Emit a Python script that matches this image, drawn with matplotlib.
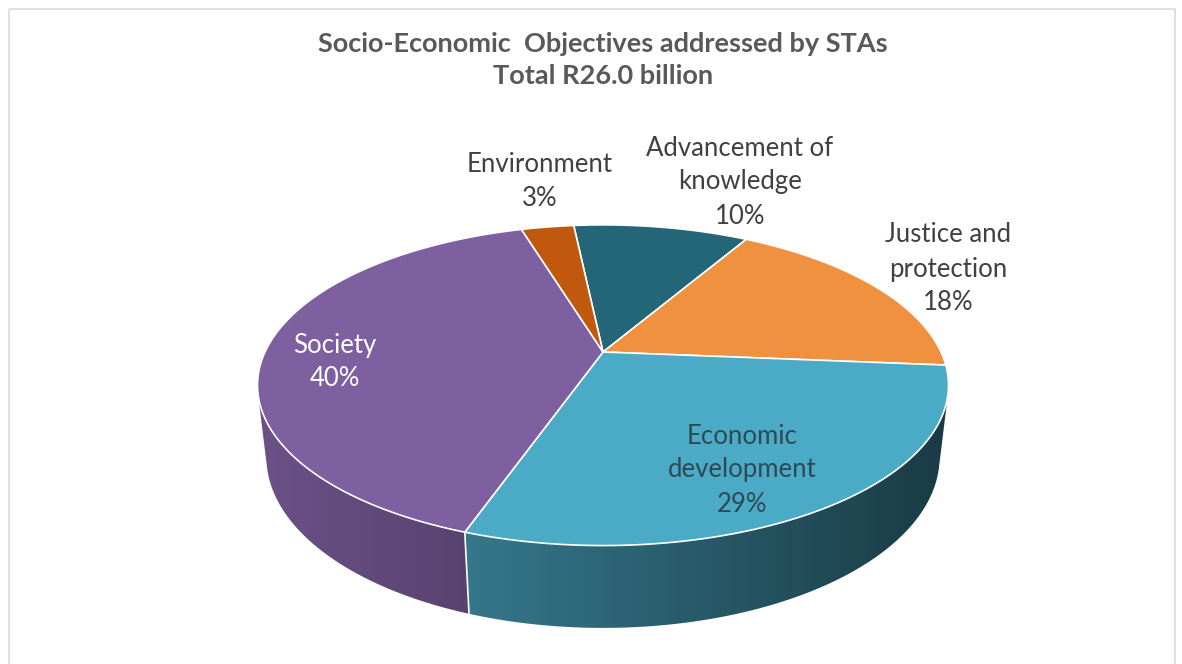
import numpy as np
import matplotlib
matplotlib.use("Agg")
import matplotlib.pyplot as plt
from matplotlib.patches import Polygon, Rectangle
from matplotlib.colors import to_rgb

# data (clockwise from 12 o'clock, as in the source chart)
categories = ["Advancement of\nknowledge", "Justice and\nprotection", "Economic\ndevelopment", "Society", "Environment"]
shares = [10, 18, 29, 40, 3]
title_lines = ["Socio-Economic  Objectives addressed by STAs", "Total R26.0 billion"]

# style
colors = ["#236678", "#F0913F", "#4BAAC6", "#7E5F9F", "#C0580E"]
label_colors = ["#404040", "#404040", "#2E4A55", "#FFFFFF", "#404040"]
label_xy = [(740, 182), (948, 269), (742, 470), (335, 362), (540, 181)]
start_deg = -6.0

# projection of a tilted disc seen in perspective
cx, cy, R = 603, 352, 338
elev = np.radians(27)
D = 4.3
thick = 0.24


def project(phi_deg, r=1.0, z=0.0):
    phi = np.radians(phi_deg)
    X = r * np.sin(phi)
    Y = r * np.cos(phi)
    up = Y * np.sin(elev) + z * np.cos(elev)
    depth = D + Y * np.cos(elev) - z * np.sin(elev)
    s = D / depth
    return cx + R * X * s, cy - R * up * s


fig = plt.figure(figsize=(11.82, 6.64), dpi=100)
ax = fig.add_axes([0, 0, 1, 1])
ax.set_xlim(0, 1182)
ax.set_ylim(664, 0)
ax.axis("off")

ax.add_patch(Rectangle((9, 9), 1166, 670, fill=False, edgecolor="#D9D9D9", lw=1.2))

bounds = start_deg + 360 * np.concatenate([[0], np.cumsum(shares)]) / sum(shares)
# side wall faces the camera where cos(phi) < -1 / (D cos(elev))
edge = np.degrees(np.arccos(-1.0 / (D * np.cos(elev))))
lo, hi = edge, 360 - edge

# side walls: one gradient-filled piece per slice
for i in range(len(shares)):
    a0, a1 = max(bounds[i], lo), min(bounds[i + 1], hi)
    if a1 <= a0:
        continue
    ph = np.linspace(a0, a1, 200)
    top = [project(p) for p in ph]
    bot = [project(p, z=-thick) for p in ph[::-1]]
    poly = Polygon(top + bot, closed=True, facecolor="none", edgecolor="none")
    ax.add_patch(poly)
    xs = np.array([p[0] for p in top + bot])
    ys = np.array([p[1] for p in top + bot])
    gx = np.linspace(xs.min(), xs.max(), 300)
    f = 0.6 - 0.25 * (gx - cx) / R
    grad = np.clip(np.array(to_rgb(colors[i]))[None, :] * f[:, None], 0, 1)[None, :, :]
    im = ax.imshow(grad, extent=(xs.min(), xs.max(), ys.max(), ys.min()),
                   aspect="auto", interpolation="bilinear", zorder=1)
    im.set_clip_path(poly)

# white seams on the visible side
for b in bounds:
    if lo < b < hi:
        x0, y0 = project(b)
        x1, y1 = project(b, z=-thick)
        ax.plot([x0, x1], [y0, y1], color="white", lw=1.2, zorder=2)

# top faces
for i in range(len(shares)):
    arc = [project(p) for p in np.linspace(bounds[i], bounds[i + 1], 120)]
    pts = [(cx, cy)] + arc
    ax.add_patch(Polygon(pts, closed=True, facecolor=colors[i], edgecolor="white",
                         lw=1.2, joinstyle="round", zorder=3))

ax.set_xlim(0, 1182)
ax.set_ylim(664, 0)

# labels
for i, name in enumerate(categories):
    x, y = label_xy[i]
    ax.text(x, y, f"{name}\n{shares[i]}%", ha="center", va="center", fontsize=18.5,
            family="Lato", color=label_colors[i], linespacing=1.45, zorder=4)

ax.text(603, 44, title_lines[0], ha="center", va="center", fontsize=19.5,
        family="Lato", fontweight="bold", color="#595959")
ax.text(603, 76, title_lines[1], ha="center", va="center", fontsize=19.5,
        family="Lato", fontweight="bold", color="#595959")

fig.savefig("out.png", dpi=100)
